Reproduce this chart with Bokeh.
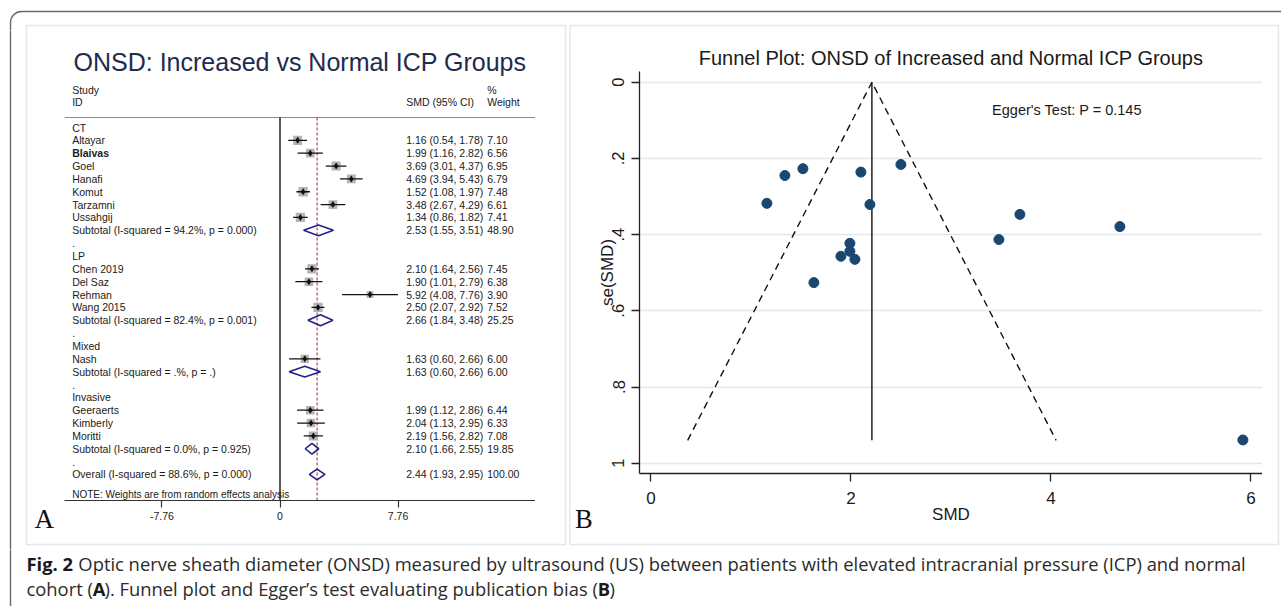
import math
import subprocess
from bokeh.plotting import figure
from bokeh.layouts import row, column
from bokeh.models import Range1d, FixedTicker, BoxAnnotation, Label
from bokeh.core.properties import value
from bokeh.embed import file_html
from bokeh.resources import INLINE

# ---------------- data ----------------
study = ["Altayar", "Blaivas", "Goel", "Hanafi", "Komut", "Tarzamni", "Ussahgij",
         "Chen 2019", "Del Saz", "Rehman", "Wang 2015",
         "Nash",
         "Geeraerts", "Kimberly", "Moritti"]
study_group = ["CT", "CT", "CT", "CT", "CT", "CT", "CT",
               "LP", "LP", "LP", "LP",
               "Mixed",
               "Invasive", "Invasive", "Invasive"]
smd = [1.16, 1.99, 3.69, 4.69, 1.52, 3.48, 1.34, 2.10, 1.90, 5.92, 2.50, 1.63, 1.99, 2.04, 2.19]
ci_low = [0.54, 1.16, 3.01, 3.94, 1.08, 2.67, 0.86, 1.64, 1.01, 4.08, 2.07, 0.60, 1.12, 1.13, 1.56]
ci_high = [1.78, 2.82, 4.37, 5.43, 1.97, 4.29, 1.82, 2.56, 2.79, 7.76, 2.92, 2.66, 2.86, 2.95, 2.82]
weight = [7.10, 6.56, 6.95, 6.79, 7.48, 6.61, 7.41, 7.45, 6.38, 3.90, 7.52, 6.00, 6.44, 6.33, 7.08]
bold_study = ["Blaivas"]

group = ["CT", "LP", "Mixed", "Invasive"]
group_smd = [2.53, 2.66, 1.63, 2.10]
group_low = [1.55, 1.84, 0.60, 1.66]
group_high = [3.51, 3.48, 2.66, 2.55]
group_weight = [48.90, 25.25, 6.00, 19.85]
group_i2 = ["94.2%", "82.4%", ".%", "0.0%"]
group_p = ["0.000", "0.001", ".", "0.925"]

overall_smd = 2.44
overall_low = 1.93
overall_high = 2.95
overall_weight = 100.00
overall_i2 = "88.6%"
overall_p = "0.000"

forest_ticks = [-7.76, 0, 7.76]
forest_tick_labels = ["-7.76", "0", "7.76"]

# funnel plot (se values)
funnel_se = [0.318, 0.423, 0.347, 0.379, 0.227, 0.413, 0.245, 0.236, 0.457, 0.939,
             0.216, 0.526, 0.444, 0.465, 0.321]
funnel_center = 2.21
funnel_se_max = 0.94
funnel_x_ticks = [0, 2, 4, 6]
funnel_y_ticks = [0, 0.2, 0.4, 0.6, 0.8, 1]
funnel_y_labels = ["0", ".2", ".4", ".6", ".8", "1"]
egger_p = "0.145"

forest_title = "ONSD: Increased vs Normal ICP Groups"
funnel_title = "Funnel Plot: ONSD of Increased and Normal ICP Groups"
caption_1 = ["Fig. 2",
             "Optic nerve sheath diameter (ONSD) measured by ultrasound (US) between patients "
             "with elevated intracranial pressure (ICP) and normal"]
caption_2 = ["cohort (", "A", "). Funnel plot and Egger\u2019s test evaluating publication bias (", "B", ")"]
caption_2_bold = [False, True, False, True, False]

# ---------------- style ----------------
SANS = "Liberation Sans"
SERIF = "Liberation Serif"
CAPF = "Open Sans"
OUTER = "#6a6a6a"
PANEL = "#e2e8ec"
TXT = "#1a1a1a"
NAVY_T = "#1e2b4f"
DIAM = "#22228a"
REDL = "#b8343c"
DOT = "#1a476f"

# page-pixel frames of the decorations (outer card, the two panel boxes)
DECOR = [dict(left=10, right=5000, top=11, bottom=5000, border_radius=11,
              line_color=OUTER, line_width=1.4),
         dict(left=26, right=565, top=25, bottom=544, line_color=PANEL, line_width=1.5),
         dict(left=569.5, right=1278, top=25, bottom=544, line_color=PANEL, line_width=1.5)]


def make_fig(width, height, xr, yr, **kw):
    p = figure(width=width, height=height, x_range=xr, y_range=yr, tools="",
               toolbar_location=None, output_backend="svg", outline_line_color=None,
               background_fill_color="white", border_fill_color="white", **kw)
    if "frame_align" in p.properties():
        p.frame_align = False
    p.grid.visible = False
    return p


def strip(x0, x1, y0, y1, decor=DECOR):
    """a figure whose data units are page pixels"""
    p = make_fig(x1 - x0, y1 - y0, Range1d(x0, x1), Range1d(y1, y0), title=None,
                 x_axis_location=None, y_axis_location=None, min_border=0)
    for d in decor:
        p.add_layout(BoxAnnotation(fill_color=None, line_alpha=1, **d))
    return p


# =============== Panel A : forest plot ===============
A_X0, A_XS = 279.5, 15.21   # page px of SMD=0, px per SMD unit
A_Y0, A_YS = 127.0, 12.85   # page px of first row, px per row


def ax(px):
    return (px - A_X0) / A_XS


def ay(py):
    return (py - A_Y0) / A_YS


fa = make_fig(471, 497, Range1d(ax(64), ax(535)), Range1d(ay(500), ay(30)), title=None,
              y_axis_location=None, min_border_left=0, min_border_right=0,
              min_border_top=0, min_border_bottom=27)

study_row = [0] * len(study)
group_row, sub_row, dot_row = [], [], []
r = 0
for g in group:
    group_row.append(r)
    r += 1
    for i, sg in enumerate(study_group):
        if sg == g:
            study_row[i] = r
            r += 1
    sub_row.append(r)
    r += 1
    dot_row.append(r)
    r += 1
overall_row = r

LX, EX, WX = ax(71.7), ax(405.7), ax(486.7)

lt, ly, bt, by = [], [], [], []
for g, rr in zip(group, group_row):
    lt.append(g); ly.append(rr)
for s, rr in zip(study, study_row):
    if s in bold_study:
        bt.append(s); by.append(rr)
    else:
        lt.append(s); ly.append(rr)
for i2, pv, rr in zip(group_i2, group_p, sub_row):
    lt.append("Subtotal  (I-squared = %s, p = %s)" % (i2, pv)); ly.append(rr)
for rr in dot_row:
    lt.append("."); ly.append(rr)
lt.append("Overall  (I-squared = %s, p = %s)" % (overall_i2, overall_p)); ly.append(overall_row)

et, ey, wt = [], [], []
for es, lo, hi, w, rr in zip(smd, ci_low, ci_high, weight, study_row):
    et.append("%.2f (%.2f, %.2f)" % (es, lo, hi)); ey.append(rr); wt.append("%.2f" % w)
for es, lo, hi, w, rr in zip(group_smd, group_low, group_high, group_weight, sub_row):
    et.append("%.2f (%.2f, %.2f)" % (es, lo, hi)); ey.append(rr); wt.append("%.2f" % w)
et.append("%.2f (%.2f, %.2f)" % (overall_smd, overall_low, overall_high))
ey.append(overall_row)
wt.append("%.2f" % overall_weight)

tkw = dict(text_font=value(SANS), text_font_size="10.5px", text_baseline="middle",
           text_align="left", text_color=TXT)
fa.text(x=[LX] * len(lt), y=ly, text=lt, **tkw)
fa.text(x=[LX] * len(bt), y=by, text=bt, text_font_style="bold", **tkw)
fa.text(x=[EX] * len(et), y=ey, text=et, **tkw)
fa.text(x=[WX] * len(wt), y=ey, text=wt, **tkw)
fa.text(x=[LX, LX, EX, WX, WX], y=[ay(89), ay(101.7), ay(101.7), ay(89), ay(101.7)],
        text=["Study", "ID", "SMD (95% CI)", "%", "Weight"], **tkw)
fa.text(x=[ax(299.5)], y=[ay(61)], text=[forest_title], text_font=value(SANS),
        text_font_size="25px", text_align="center", text_baseline="middle", text_color=NAVY_T)
fa.text(x=[LX], y=[ay(494)], text=["NOTE: Weights are from random effects analysis"],
        text_font=value(SANS), text_font_size="10px", text_baseline="middle",
        text_align="left", text_color=TXT)

HEAD = ay(117)
fa.segment(x0=[ax(64)], y0=[HEAD], x1=[ax(535)], y1=[HEAD], line_color="#8a8a8a", line_width=1)
fa.segment(x0=[0], y0=[HEAD], x1=[0], y1=[ay(500)], line_color="#111111", line_width=1.4)
fa.segment(x0=[overall_smd], y0=[HEAD], x1=[overall_smd], y1=[ay(500)], line_color=REDL,
           line_width=1.1, line_dash="3 2")

fa.scatter(x=smd, y=study_row, marker="square", size=[3.4 * math.sqrt(w) for w in weight],
           fill_color="#b4b4b4", line_color=None)
fa.segment(x0=ci_low, y0=study_row, x1=ci_high, y1=study_row, line_color="#111111", line_width=1.3)
fa.scatter(x=smd, y=study_row, marker="diamond", size=7, fill_color="#111111", line_color=None)

H = 0.42
dxs, dys = [], []
for es, lo, hi, rr in zip(group_smd + [overall_smd], group_low + [overall_low],
                          group_high + [overall_high], sub_row + [overall_row]):
    dxs.append([lo, es, hi, es])
    dys.append([rr, rr - H, rr, rr + H])
fa.patches(xs=dxs, ys=dys, fill_alpha=0, line_color=DIAM, line_width=1.6)

fa.xaxis.ticker = FixedTicker(ticks=forest_ticks)
fa.xaxis.major_label_overrides = dict(zip(forest_ticks, forest_tick_labels))
fa.xaxis.axis_line_color = "#333333"
fa.xaxis.axis_line_width = 1.2
fa.xaxis.major_tick_line_color = "#333333"
fa.xaxis.major_tick_line_width = 1.2
fa.xaxis.major_tick_out = 7
fa.xaxis.major_tick_in = 0
fa.xaxis.minor_tick_out = 0
fa.xaxis.major_label_standoff = 4
fa.xaxis.major_label_text_font = SANS
fa.xaxis.major_label_text_font_size = "10.5px"
fa.xaxis.major_label_text_color = TXT

# =============== Panel B : funnel plot ===============
B_X0, B_XS = 650.4, 100.0   # page px of SMD=0, px per SMD unit
B_Y0, B_YS = 81.7, 381.0    # page px of se=0, px per se unit


def bx(px):
    return (px - B_X0) / B_XS


def by_(py):
    return (py - B_Y0) / B_YS


FB_LEFT = 592
fb = make_fig(1262 - FB_LEFT, 497, Range1d(bx(639), bx(1262)), Range1d(by_(473), by_(71)),
              title=funnel_title, min_border_left=639 - FB_LEFT, min_border_right=0,
              min_border_top=41, min_border_bottom=54)
fb.title.align = "center"
fb.title.text_font = SANS
fb.title.text_font_size = "20px"
fb.title.text_font_style = "normal"
fb.title.text_color = "#1a1a1a"
fb.title.standoff = 6

fb.xaxis.ticker = FixedTicker(ticks=funnel_x_ticks)
fb.yaxis.ticker = FixedTicker(ticks=funnel_y_ticks)
fb.yaxis.major_label_overrides = dict(zip(funnel_y_ticks, funnel_y_labels))
fb.xaxis.axis_label = "SMD"
fb.yaxis.axis_label = "se(SMD)"
for a in (fb.xaxis[0], fb.yaxis[0]):
    a.axis_line_color = "#222222"
    a.axis_line_width = 1.3
    a.major_tick_line_color = "#222222"
    a.major_tick_line_width = 1.3
    a.major_tick_out = 8
    a.major_tick_in = 0
    a.minor_tick_out = 0
    a.minor_tick_in = 0
    a.major_label_text_font = SANS
    a.major_label_text_font_size = "17px"
    a.major_label_text_color = "#1a1a1a"
    a.axis_label_text_font = SANS
    a.axis_label_text_font_size = "17px"
    a.axis_label_text_font_style = "normal"
    a.axis_label_text_color = "#1a1a1a"
fb.xaxis.major_label_standoff = 10
fb.xaxis.axis_label_standoff = -2
fb.yaxis.major_label_orientation = "vertical"
fb.yaxis.major_label_text_font_size = "16.5px"
fb.yaxis.major_label_standoff = 7
fb.yaxis.axis_label_standoff = -7
fb.ygrid.visible = True
fb.ygrid.grid_line_color = "#e1e8ed"
fb.ygrid.grid_line_width = 1.5

fb.line(x=[funnel_center, funnel_center], y=[0, funnel_se_max], line_color="#111111", line_width=1.4)
fb.line(x=[funnel_center - 1.96 * funnel_se_max, funnel_center, funnel_center + 1.96 * funnel_se_max],
        y=[funnel_se_max, 0, funnel_se_max], line_color="#111111", line_width=1.4, line_dash="7 5")
fb.scatter(x=smd, y=funnel_se, size=10, fill_color=DOT, line_color=DOT)
fb.add_layout(Label(x=bx(991.6), y=by_(109.7), text="Egger's Test:  P = " + egger_p,
                    text_font=SANS, text_font_size="14.5px", text_baseline="middle",
                    text_align="left", text_color="#1a1a1a"))

# =============== decoration strips (units = page px) ===============
top_strip = strip(0, 1281, 0, 30)
left_a = strip(0, 64, 30, 549)
left_a.text(x=[34], y=[518.5], text=["A"], text_font=value(SERIF), text_font_size="27px",
            text_baseline="middle", text_align="left", text_color="#111111")
bottom_a = strip(64, 535, 527, 549)
mid_ab = strip(535, FB_LEFT, 30, 549)
mid_ab.text(x=[574.5], y=[518.5], text=["B"], text_font=value(SERIF), text_font_size="26.5px",
            text_baseline="middle", text_align="left", text_color="#111111")
bottom_b = strip(FB_LEFT, 1262, 527, 549)
right_b = strip(1262, 1281, 30, 549)

# =============== caption ===============


def font_file(family, bold):
    try:
        pat = family + (":bold" if bold else ":regular")
        out = subprocess.run(["fc-match", "-f", "%{file}", pat], capture_output=True,
                             text=True, timeout=5).stdout.strip()
        return out or None
    except Exception:
        return None


_fonts = {}


def text_w(txt, bold, size):
    try:
        from PIL import ImageFont
        if bold not in _fonts:
            _fonts[bold] = ImageFont.truetype(font_file(CAPF, bold), 200)
        return _fonts[bold].getlength(txt) * size / 200.0
    except Exception:
        return len(txt) * (0.58 if bold else 0.53) * size


CAP_X0 = 26
CAP_END1 = 1245
GAP = 0.42  # em gap after "Fig. 2"
unit = text_w(caption_1[0], True, 1) + GAP + text_w(caption_1[1], False, 1)
CAP_SIZE = max(15.0, min(20.0, (CAP_END1 - CAP_X0) / unit))

fc = strip(0, 1281, 549, 606, decor=[DECOR[0]])
ckw = dict(text_font=value(CAPF), text_font_size="%.2fpx" % CAP_SIZE, text_baseline="middle",
           text_align="left")
fc.text(x=[CAP_X0], y=[563], text=[caption_1[0]], text_font_style="bold",
        text_color="#1a1a1a", **ckw)
x1 = CAP_X0 + text_w(caption_1[0], True, CAP_SIZE) + GAP * CAP_SIZE
fc.text(x=[x1], y=[563], text=[caption_1[1]], text_color="#2b2b2b", **ckw)
xx = CAP_X0
for seg, bb in zip(caption_2, caption_2_bold):
    fc.text(x=[xx], y=[587.5], text=[seg], text_font_style="bold" if bb else "normal",
            text_color="#1a1a1a" if bb else "#2b2b2b", **ckw)
    xx += text_w(seg, bb, CAP_SIZE)

layout = column(
    top_strip,
    row(left_a, column(fa, bottom_a), mid_ab, column(fb, bottom_b), right_b),
    fc,
)
open("out.html", "w").write(file_html(layout, INLINE))
